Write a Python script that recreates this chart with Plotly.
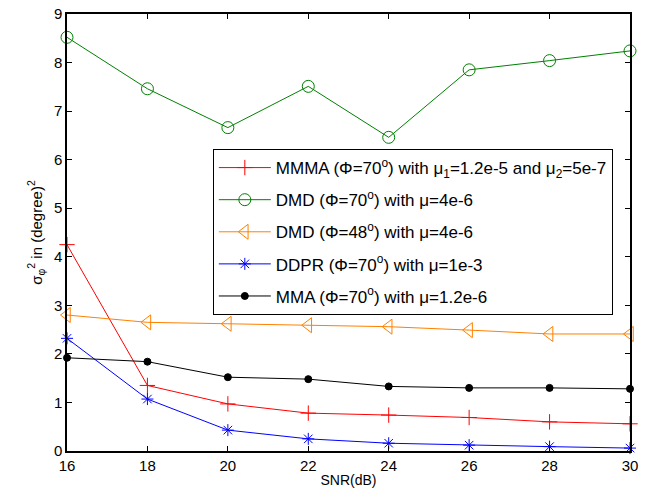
import plotly.graph_objects as go

snr = [16, 18, 20, 22, 24, 26, 28, 30]
mmma_70 = [4.25, 1.35, 0.97, 0.78, 0.74, 0.69, 0.60, 0.56]
dmd_70 = [8.52, 7.46, 6.66, 7.51, 6.46, 7.85, 8.04, 8.24]
dmd_48 = [2.80, 2.65, 2.62, 2.59, 2.56, 2.49, 2.41, 2.41]
ddpr_70 = [2.32, 1.07, 0.43, 0.25, 0.16, 0.12, 0.09, 0.06]
mma_70 = [1.92, 1.84, 1.52, 1.48, 1.33, 1.30, 1.30, 1.28]

x_ticks = [16, 18, 20, 22, 24, 26, 28, 30]
y_ticks = [0, 1, 2, 3, 4, 5, 6, 7, 8, 9]

names = [
    "MMMA (Φ=70<sup>o</sup>) with μ<sub>1</sub>=1.2e-5 and μ<sub>2</sub>=5e-7",
    "DMD (Φ=70<sup>o</sup>) with μ=4e-6",
    "DMD (Φ=48<sup>o</sup>) with μ=4e-6",
    "DDPR (Φ=70<sup>o</sup>) with μ=1e-3",
    "MMA (Φ=70<sup>o</sup>) with μ=1.2e-6",
]
series = [mmma_70, dmd_70, dmd_48, ddpr_70, mma_70]
colors = ["#ff0000", "#008000", "#ff8000", "#0000ff", "#000000"]
symbols = ["cross-thin-open", "circle-open", "triangle-left-open", "asterisk-open", "circle"]
sizes = [11, 12, 13, 10, 7]

fig = go.Figure()
for i, (n, s, c, sym, sz) in enumerate(zip(names, series, colors, symbols, sizes)):
    fig.add_trace(go.Scatter(
        x=snr, y=s, name=n, mode="lines+markers",
        legendgroup=f"g{i}",
        line=dict(color=c, width=1),
        marker=dict(symbol=sym, size=sz, color=c, line=dict(color=c, width=1)),
        cliponaxis=False,
    ))

axis_common = dict(
    showline=True, linecolor="black", linewidth=1.5, mirror="allticks",
    ticks="inside", ticklen=5, tickcolor="black", showgrid=False, zeroline=False,
    automargin=False,
    tickfont=dict(family="Liberation Sans, Arial, sans-serif", size=15, color="black"),
)

fig.update_layout(
    width=652, height=498,
    margin=dict(l=67, r=22, t=14, b=47),
    paper_bgcolor="white", plot_bgcolor="white",
    font=dict(family="Liberation Sans, Arial, sans-serif", size=14, color="black"),
    xaxis=dict(range=[16, 30], tickvals=x_ticks,
               title=dict(text="SNR(dB)", font=dict(size=14), standoff=2), **axis_common),
    yaxis=dict(range=[0, 9], tickvals=y_ticks,
               title=dict(text="σ<sub>φ</sub><sup>2</sup> in (degree)<sup>2</sup>", font=dict(size=15), standoff=8),
               **axis_common),
    legend=dict(
        x=0.259, y=0.691, xanchor="left", yanchor="top",
        bgcolor="white", bordercolor="black", borderwidth=1,
        font=dict(size=17), itemwidth=52, tracegroupgap=7,
    ),
    showlegend=True,
)

fig.write_html("out.html", config={"displayModeBar": False},
               post_script="document.body.style.margin='0';")
